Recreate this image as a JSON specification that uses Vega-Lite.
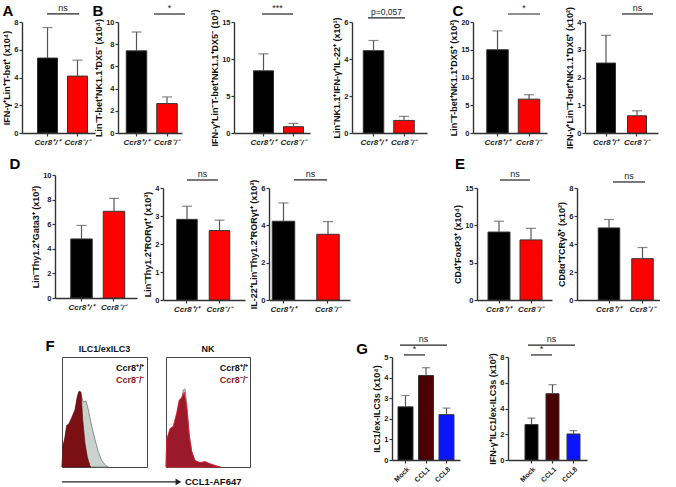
{
"$schema": "https://vega.github.io/schema/vega-lite/v6.json",
"padding": 0,
"background": "white",
"spacing": 0,
"bounds": "flush",
"config": {
  "view": {"stroke": null},
  "font": "Liberation Sans",
  "concat": {"spacing": 0},
  "axis": {"domainColor":"#333333","domainWidth":1.4,"tickColor":"#333333","tickWidth":1.2,"tickSize":3,"labelFont":"Liberation Sans","labelFontWeight":"bold","labelFontSize":7.5,"labelColor":"#222222","labelPadding":1,"labelOverlap":false,"titleFont":"Liberation Sans","titleFontWeight":"bold","titleFontSize":9,"titleColor":"#111111","titlePadding":2,"grid":false,"titleLimit":400},
  "axisX": {"labelFontStyle":"italic","labelFontSize":8,"labelPadding":2},
  "title": {"font":"Liberation Sans","fontSize":9,"fontWeight":"bold","color":"#111111","offset":3}
},
"vconcat": [
{"hconcat":[
  {"width":16,"height":22,"data":{"values":[{"t":"A"}]},"mark":{"type":"text","fontSize":15,"fontWeight":"bold","font":"Liberation Sans","color":"#000000"},"encoding":{"text":{"field":"t"}}},
  {"width":74,"height":22,"data":{"values":[]},"mark":"point"},
  {"width":16,"height":22,"data":{"values":[{"t":"B"}]},"mark":{"type":"text","fontSize":15,"fontWeight":"bold","font":"Liberation Sans","color":"#000000"},"encoding":{"text":{"field":"t"}}},
  {"width":344,"height":22,"data":{"values":[]},"mark":"point"},
  {"width":16,"height":22,"data":{"values":[{"t":"C"}]},"mark":{"type":"text","fontSize":15,"fontWeight":"bold","font":"Liberation Sans","color":"#000000"},"encoding":{"text":{"field":"t"}}}
 ],"spacing":0,"bounds":"flush"},
{"width":1,"height":22,"data":{"values":[]},"mark":"point"},
{"hconcat":[
{"width":22,"height":1,"data":{"values":[]},"mark":"point"},
{"width":73,"height":111,
 "data":{"values":[{"g":"Ccr8⁺/⁺","v":5.4,"e":7.6},{"g":"Ccr8⁻/⁻","v":4.1,"e":5.25}]},
 "encoding":{"x":{"field":"g","type":"nominal","title":null,"scale":{"domain":["Ccr8⁺/⁺","Ccr8⁻/⁻"],"paddingInner":0.3333,"paddingOuter":0.3833,"align":0.674},"axis":{"labelAngle":0}}},
 "layer":[
  {"mark":{"type":"bar","stroke":"#333333","strokeWidth":1},"encoding":{"y":{"field":"v","type":"quantitative","scale":{"domain":[0,8],"nice":false},"axis":{"values":[0,2,4,6,8],"labelOverlap":false,"title":"IFN-γ⁺Lin⁺T-bet⁺ (x10⁴)"}},"color":{"field":"g","type":"nominal","scale":{"domain":["Ccr8⁺/⁺","Ccr8⁻/⁻","Mock","CCL1","CCL8"],"range":["#000000","#ff0000","#000000","#4d0000","#0a14ff"]},"legend":null}}},
  {"mark":{"type":"rule","color":"#555555","strokeWidth":1.2},"encoding":{"y":{"field":"v","type":"quantitative","axis":{"values":[0,2,4,6,8],"labelOverlap":false,"title":"IFN-γ⁺Lin⁺T-bet⁺ (x10⁴)"}},"y2":{"field":"e"}}},
  {"mark":{"type":"tick","orient":"horizontal","color":"#555555","thickness":1.2,"size":10},"encoding":{"y":{"field":"e","type":"quantitative","axis":{"values":[0,2,4,6,8],"labelOverlap":false,"title":"IFN-γ⁺Lin⁺T-bet⁺ (x10⁴)"}}}},
  {"data":{"values":[{"a":"Ccr8⁺/⁺","b":"Ccr8⁻/⁻","s":"ns"}]},"mark":{"type":"rule","color":"#222222","strokeWidth":1.2},"encoding":{"x":{"field":"a","type":"nominal","title":null,"bandPosition":0.475},"x2":{"field":"b","bandPosition":0.575},"y":{"datum":8.58,"type":"quantitative","axis":{"values":[0,2,4,6,8],"labelOverlap":false,"title":"IFN-γ⁺Lin⁺T-bet⁺ (x10⁴)"}}}},
  {"data":{"values":[{"a":"Ccr8⁺/⁺","s":"ns"}]},"mark":{"type":"text","baseline":"bottom","dy":-1,"fontSize":9,"color":"#222222"},"encoding":{"x":{"field":"a","type":"nominal","title":null,"bandPosition":1.275},"y":{"datum":8.58,"type":"quantitative","axis":{"values":[0,2,4,6,8],"labelOverlap":false,"title":"IFN-γ⁺Lin⁺T-bet⁺ (x10⁴)"}},"text":{"field":"s"}}}
 ]},
{"width":23,"height":1,"data":{"values":[]},"mark":"point"},
{"width":64,"height":111,
 "data":{"values":[{"g":"Ccr8⁺/⁺","v":7.4,"e":9.1},{"g":"Ccr8⁻/⁻","v":2.65,"e":3.25}]},
 "encoding":{"x":{"field":"g","type":"nominal","title":null,"scale":{"domain":["Ccr8⁺/⁺","Ccr8⁻/⁻"],"paddingInner":0.3279,"paddingOuter":0.2131,"align":0.635},"axis":{"labelAngle":0}}},
 "layer":[
  {"mark":{"type":"bar","stroke":"#333333","strokeWidth":1},"encoding":{"y":{"field":"v","type":"quantitative","scale":{"domain":[0,10],"nice":false},"axis":{"values":[0,2,4,6,8,10],"labelOverlap":false,"title":"Lin⁻T-bet⁺NK1.1⁺DX5⁻ (x10⁴)"}},"color":{"field":"g","type":"nominal","scale":{"domain":["Ccr8⁺/⁺","Ccr8⁻/⁻","Mock","CCL1","CCL8"],"range":["#000000","#ff0000","#000000","#4d0000","#0a14ff"]},"legend":null}}},
  {"mark":{"type":"rule","color":"#555555","strokeWidth":1.2},"encoding":{"y":{"field":"v","type":"quantitative","axis":{"values":[0,2,4,6,8,10],"labelOverlap":false,"title":"Lin⁻T-bet⁺NK1.1⁺DX5⁻ (x10⁴)"}},"y2":{"field":"e"}}},
  {"mark":{"type":"tick","orient":"horizontal","color":"#555555","thickness":1.2,"size":10},"encoding":{"y":{"field":"e","type":"quantitative","axis":{"values":[0,2,4,6,8,10],"labelOverlap":false,"title":"Lin⁻T-bet⁺NK1.1⁺DX5⁻ (x10⁴)"}}}},
  {"data":{"values":[{"a":"Ccr8⁺/⁺","b":"Ccr8⁻/⁻","s":"*"}]},"mark":{"type":"rule","color":"#222222","strokeWidth":1.2},"encoding":{"x":{"field":"a","type":"nominal","title":null,"bandPosition":1.354},"x2":{"field":"b","bandPosition":1.378},"y":{"datum":10.72,"type":"quantitative","axis":{"values":[0,2,4,6,8,10],"labelOverlap":false,"title":"Lin⁻T-bet⁺NK1.1⁺DX5⁻ (x10⁴)"}}}},
  {"data":{"values":[{"a":"Ccr8⁺/⁺","s":"*"}]},"mark":{"type":"text","baseline":"bottom","dy":-1,"fontSize":9,"color":"#222222"},"encoding":{"x":{"field":"a","type":"nominal","title":null,"bandPosition":2.11},"y":{"datum":10.72,"type":"quantitative","axis":{"values":[0,2,4,6,8,10],"labelOverlap":false,"title":"Lin⁻T-bet⁺NK1.1⁺DX5⁻ (x10⁴)"}},"text":{"field":"s"}}}
 ]},
{"width":52,"height":1,"data":{"values":[]},"mark":"point"},
{"width":76,"height":111,
 "data":{"values":[{"g":"Ccr8⁺/⁺","v":8.4,"e":10.7},{"g":"Ccr8⁻/⁻","v":0.85,"e":1.3}]},
 "encoding":{"x":{"field":"g","type":"nominal","title":null,"scale":{"domain":["Ccr8⁺/⁺","Ccr8⁻/⁻"],"paddingInner":0.3333,"paddingOuter":0.4333,"align":0.75},"axis":{"labelAngle":0}}},
 "layer":[
  {"mark":{"type":"bar","stroke":"#333333","strokeWidth":1},"encoding":{"y":{"field":"v","type":"quantitative","scale":{"domain":[0,15],"nice":false},"axis":{"values":[0,5,10,15],"labelOverlap":false,"title":"IFN-γ⁺Lin⁻T-bet⁺NK1.1⁺DX5⁻ (10³)"}},"color":{"field":"g","type":"nominal","scale":{"domain":["Ccr8⁺/⁺","Ccr8⁻/⁻","Mock","CCL1","CCL8"],"range":["#000000","#ff0000","#000000","#4d0000","#0a14ff"]},"legend":null}}},
  {"mark":{"type":"rule","color":"#555555","strokeWidth":1.2},"encoding":{"y":{"field":"v","type":"quantitative","axis":{"values":[0,5,10,15],"labelOverlap":false,"title":"IFN-γ⁺Lin⁻T-bet⁺NK1.1⁺DX5⁻ (10³)"}},"y2":{"field":"e"}}},
  {"mark":{"type":"tick","orient":"horizontal","color":"#555555","thickness":1.2,"size":10},"encoding":{"y":{"field":"e","type":"quantitative","axis":{"values":[0,5,10,15],"labelOverlap":false,"title":"IFN-γ⁺Lin⁻T-bet⁺NK1.1⁺DX5⁻ (10³)"}}}},
  {"data":{"values":[{"a":"Ccr8⁺/⁺","b":"Ccr8⁻/⁻","s":"***"}]},"mark":{"type":"rule","color":"#222222","strokeWidth":1.2},"encoding":{"x":{"field":"a","type":"nominal","title":null,"bandPosition":0.425},"x2":{"field":"b","bandPosition":0.475},"y":{"datum":16.08,"type":"quantitative","axis":{"values":[0,5,10,15],"labelOverlap":false,"title":"IFN-γ⁺Lin⁻T-bet⁺NK1.1⁺DX5⁻ (10³)"}}}},
  {"data":{"values":[{"a":"Ccr8⁺/⁺","s":"***"}]},"mark":{"type":"text","baseline":"bottom","dy":-1,"fontSize":9,"color":"#222222"},"encoding":{"x":{"field":"a","type":"nominal","title":null,"bandPosition":1.2},"y":{"datum":16.08,"type":"quantitative","axis":{"values":[0,5,10,15],"labelOverlap":false,"title":"IFN-γ⁺Lin⁻T-bet⁺NK1.1⁺DX5⁻ (10³)"}},"text":{"field":"s"}}}
 ]},
{"width":42,"height":1,"data":{"values":[]},"mark":"point"},
{"width":75,"height":111,
 "data":{"values":[{"g":"Ccr8⁺/⁺","v":4.45,"e":5.0},{"g":"Ccr8⁻/⁻","v":0.68,"e":0.9}]},
 "encoding":{"x":{"field":"g","type":"nominal","title":null,"scale":{"domain":["Ccr8⁺/⁺","Ccr8⁻/⁻"],"paddingInner":0.3279,"paddingOuter":0.3934,"align":0.469},"axis":{"labelAngle":0}}},
 "layer":[
  {"mark":{"type":"bar","stroke":"#333333","strokeWidth":1},"encoding":{"y":{"field":"v","type":"quantitative","scale":{"domain":[0,6],"nice":false},"axis":{"values":[0,2,4,6],"labelOverlap":false,"title":"Lin⁻NK1.1⁺IFN-γ⁺IL-22⁺ (x10¹)"}},"color":{"field":"g","type":"nominal","scale":{"domain":["Ccr8⁺/⁺","Ccr8⁻/⁻","Mock","CCL1","CCL8"],"range":["#000000","#ff0000","#000000","#4d0000","#0a14ff"]},"legend":null}}},
  {"mark":{"type":"rule","color":"#555555","strokeWidth":1.2},"encoding":{"y":{"field":"v","type":"quantitative","axis":{"values":[0,2,4,6],"labelOverlap":false,"title":"Lin⁻NK1.1⁺IFN-γ⁺IL-22⁺ (x10¹)"}},"y2":{"field":"e"}}},
  {"mark":{"type":"tick","orient":"horizontal","color":"#555555","thickness":1.2,"size":10},"encoding":{"y":{"field":"e","type":"quantitative","axis":{"values":[0,2,4,6],"labelOverlap":false,"title":"Lin⁻NK1.1⁺IFN-γ⁺IL-22⁺ (x10¹)"}}}},
  {"data":{"values":[{"a":"Ccr8⁺/⁺","b":"Ccr8⁻/⁻","s":"p=0,057"}]},"mark":{"type":"rule","color":"#222222","strokeWidth":1.2},"encoding":{"x":{"field":"a","type":"nominal","title":null,"bandPosition":0.232},"x2":{"field":"b","bandPosition":0.549},"y":{"datum":6.22,"type":"quantitative","axis":{"values":[0,2,4,6],"labelOverlap":false,"title":"Lin⁻NK1.1⁺IFN-γ⁺IL-22⁺ (x10¹)"}}}},
  {"data":{"values":[{"a":"Ccr8⁺/⁺","s":"p=0,057"}]},"mark":{"type":"text","baseline":"bottom","dy":-1,"fontSize":8.5,"color":"#222222"},"encoding":{"x":{"field":"a","type":"nominal","title":null,"bandPosition":1.134},"y":{"datum":6.22,"type":"quantitative","axis":{"values":[0,2,4,6],"labelOverlap":false,"title":"Lin⁻NK1.1⁺IFN-γ⁺IL-22⁺ (x10¹)"}},"text":{"field":"s"}}}
 ]},
{"width":46,"height":1,"data":{"values":[]},"mark":"point"},
{"width":74,"height":111,
 "data":{"values":[{"g":"Ccr8⁺/⁺","v":15.0,"e":18.4},{"g":"Ccr8⁻/⁻","v":6.1,"e":6.9}]},
 "encoding":{"x":{"field":"g","type":"nominal","title":null,"scale":{"domain":["Ccr8⁺/⁺","Ccr8⁻/⁻"],"paddingInner":0.3175,"paddingOuter":0.3333,"align":0.655},"axis":{"labelAngle":0}}},
 "layer":[
  {"mark":{"type":"bar","stroke":"#333333","strokeWidth":1},"encoding":{"y":{"field":"v","type":"quantitative","scale":{"domain":[0,20],"nice":false},"axis":{"values":[0,5,10,15,20],"labelOverlap":false,"title":"Lin⁻T-bet⁺NK1.1⁺DX5⁺ (x10²)"}},"color":{"field":"g","type":"nominal","scale":{"domain":["Ccr8⁺/⁺","Ccr8⁻/⁻","Mock","CCL1","CCL8"],"range":["#000000","#ff0000","#000000","#4d0000","#0a14ff"]},"legend":null}}},
  {"mark":{"type":"rule","color":"#555555","strokeWidth":1.2},"encoding":{"y":{"field":"v","type":"quantitative","axis":{"values":[0,5,10,15,20],"labelOverlap":false,"title":"Lin⁻T-bet⁺NK1.1⁺DX5⁺ (x10²)"}},"y2":{"field":"e"}}},
  {"mark":{"type":"tick","orient":"horizontal","color":"#555555","thickness":1.2,"size":10},"encoding":{"y":{"field":"e","type":"quantitative","axis":{"values":[0,5,10,15,20],"labelOverlap":false,"title":"Lin⁻T-bet⁺NK1.1⁺DX5⁺ (x10²)"}}}},
  {"data":{"values":[{"a":"Ccr8⁺/⁺","b":"Ccr8⁻/⁻","s":"*"}]},"mark":{"type":"rule","color":"#222222","strokeWidth":1.2},"encoding":{"x":{"field":"a","type":"nominal","title":null,"bandPosition":0.988},"x2":{"field":"b","bandPosition":1.01},"y":{"datum":21.44,"type":"quantitative","axis":{"values":[0,5,10,15,20],"labelOverlap":false,"title":"Lin⁻T-bet⁺NK1.1⁺DX5⁺ (x10²)"}}}},
  {"data":{"values":[{"a":"Ccr8⁺/⁺","s":"*"}]},"mark":{"type":"text","baseline":"bottom","dy":-1,"fontSize":9,"color":"#222222"},"encoding":{"x":{"field":"a","type":"nominal","title":null,"bandPosition":1.733},"y":{"datum":21.44,"type":"quantitative","axis":{"values":[0,5,10,15,20],"labelOverlap":false,"title":"Lin⁻T-bet⁺NK1.1⁺DX5⁺ (x10²)"}},"text":{"field":"s"}}}
 ]},
{"width":38,"height":1,"data":{"values":[]},"mark":"point"},
{"width":73,"height":111,
 "data":{"values":[{"g":"Ccr8⁺/⁺","v":2.52,"e":3.52},{"g":"Ccr8⁻/⁻","v":0.62,"e":0.8}]},
 "encoding":{"x":{"field":"g","type":"nominal","title":null,"scale":{"domain":["Ccr8⁺/⁺","Ccr8⁻/⁻"],"paddingInner":0.3871,"paddingOuter":0.371,"align":0.5},"axis":{"labelAngle":0}}},
 "layer":[
  {"mark":{"type":"bar","stroke":"#333333","strokeWidth":1},"encoding":{"y":{"field":"v","type":"quantitative","scale":{"domain":[0,4],"nice":false},"axis":{"values":[0,1,2,3,4],"labelOverlap":false,"title":"IFN-γ⁺Lin⁻T-bet⁺NK1.1⁺DX5⁺ (x10²)"}},"color":{"field":"g","type":"nominal","scale":{"domain":["Ccr8⁺/⁺","Ccr8⁻/⁻","Mock","CCL1","CCL8"],"range":["#000000","#ff0000","#000000","#4d0000","#0a14ff"]},"legend":null}}},
  {"mark":{"type":"rule","color":"#555555","strokeWidth":1.2},"encoding":{"y":{"field":"v","type":"quantitative","axis":{"values":[0,1,2,3,4],"labelOverlap":false,"title":"IFN-γ⁺Lin⁻T-bet⁺NK1.1⁺DX5⁺ (x10²)"}},"y2":{"field":"e"}}},
  {"mark":{"type":"tick","orient":"horizontal","color":"#555555","thickness":1.2,"size":10},"encoding":{"y":{"field":"e","type":"quantitative","axis":{"values":[0,1,2,3,4],"labelOverlap":false,"title":"IFN-γ⁺Lin⁻T-bet⁺NK1.1⁺DX5⁺ (x10²)"}}}},
  {"data":{"values":[{"a":"Ccr8⁺/⁺","b":"Ccr8⁻/⁻","s":"ns"}]},"mark":{"type":"rule","color":"#222222","strokeWidth":1.2},"encoding":{"x":{"field":"a","type":"nominal","title":null,"bandPosition":1.342},"x2":{"field":"b","bandPosition":1.342},"y":{"datum":4.29,"type":"quantitative","axis":{"values":[0,1,2,3,4],"labelOverlap":false,"title":"IFN-γ⁺Lin⁻T-bet⁺NK1.1⁺DX5⁺ (x10²)"}}}},
  {"data":{"values":[{"a":"Ccr8⁺/⁺","s":"ns"}]},"mark":{"type":"text","baseline":"bottom","dy":-1,"fontSize":9,"color":"#222222"},"encoding":{"x":{"field":"a","type":"nominal","title":null,"bandPosition":2.158},"y":{"datum":4.29,"type":"quantitative","axis":{"values":[0,1,2,3,4],"labelOverlap":false,"title":"IFN-γ⁺Lin⁻T-bet⁺NK1.1⁺DX5⁺ (x10²)"}},"text":{"field":"s"}}}
 ]}
],"spacing":0,"bounds":"flush"},
{"width":1,"height":131,"data":{"values":[]},"mark":"point"},
{"hconcat":[
  {"width":30,"height":22,"data":{"values":[{"t":"D"}]},"mark":{"type":"text","fontSize":15,"fontWeight":"bold","font":"Liberation Sans","color":"#000000"},"encoding":{"text":{"field":"t"}}},
  {"width":420,"height":22,"data":{"values":[]},"mark":"point"},
  {"width":20,"height":22,"data":{"values":[{"t":"E"}]},"mark":{"type":"text","fontSize":15,"fontWeight":"bold","font":"Liberation Sans","color":"#000000"},"encoding":{"text":{"field":"t"}}}
 ],"spacing":0,"bounds":"flush"},
{"width":1,"height":22,"data":{"values":[]},"mark":"point"},
{"hconcat":[
{"width":55,"height":1,"data":{"values":[]},"mark":"point"},
{"width":82,"height":123,
 "data":{"values":[{"g":"Ccr8⁺/⁺","v":4.8,"e":5.9},{"g":"Ccr8⁻/⁻","v":7.05,"e":8.1}]},
 "encoding":{"x":{"field":"g","type":"nominal","title":null,"scale":{"domain":["Ccr8⁺/⁺","Ccr8⁻/⁻"],"paddingInner":0.3385,"paddingOuter":0.4308,"align":0.5625},"axis":{"labelAngle":0}}},
 "layer":[
  {"mark":{"type":"bar","stroke":"#333333","strokeWidth":1},"encoding":{"y":{"field":"v","type":"quantitative","scale":{"domain":[0,10],"nice":false},"axis":{"values":[0,2,4,6,8,10],"labelOverlap":false,"title":"Lin⁻Thy1.2⁺Gata3⁺ (x10³)"}},"color":{"field":"g","type":"nominal","scale":{"domain":["Ccr8⁺/⁺","Ccr8⁻/⁻","Mock","CCL1","CCL8"],"range":["#000000","#ff0000","#000000","#4d0000","#0a14ff"]},"legend":null}}},
  {"mark":{"type":"rule","color":"#555555","strokeWidth":1.2},"encoding":{"y":{"field":"v","type":"quantitative","axis":{"values":[0,2,4,6,8,10],"labelOverlap":false,"title":"Lin⁻Thy1.2⁺Gata3⁺ (x10³)"}},"y2":{"field":"e"}}},
  {"mark":{"type":"tick","orient":"horizontal","color":"#555555","thickness":1.2,"size":10},"encoding":{"y":{"field":"e","type":"quantitative","axis":{"values":[0,2,4,6,8,10],"labelOverlap":false,"title":"Lin⁻Thy1.2⁺Gata3⁺ (x10³)"}}}}
 ]}
],"spacing":0,"bounds":"flush"},
{"width":1,"height":13,"data":{"values":[]},"mark":"point"},
{"hconcat":[
{"width":163,"height":1,"data":{"values":[]},"mark":"point"},
{"width":82,"height":112,
 "data":{"values":[{"g":"Ccr8⁺/⁺","v":2.88,"e":3.35},{"g":"Ccr8⁻/⁻","v":2.48,"e":2.85}]},
 "encoding":{"x":{"field":"g","type":"nominal","title":null,"scale":{"domain":["Ccr8⁺/⁺","Ccr8⁻/⁻"],"paddingInner":0.3692,"paddingOuter":0.4462,"align":0.474},"axis":{"labelAngle":0}}},
 "layer":[
  {"mark":{"type":"bar","stroke":"#333333","strokeWidth":1},"encoding":{"y":{"field":"v","type":"quantitative","scale":{"domain":[0,4],"nice":false},"axis":{"values":[0,1,2,3,4],"labelOverlap":false,"title":"Lin⁻Thy1.2⁺RORγt⁺ (x10³)"}},"color":{"field":"g","type":"nominal","scale":{"domain":["Ccr8⁺/⁺","Ccr8⁻/⁻","Mock","CCL1","CCL8"],"range":["#000000","#ff0000","#000000","#4d0000","#0a14ff"]},"legend":null}}},
  {"mark":{"type":"rule","color":"#555555","strokeWidth":1.2},"encoding":{"y":{"field":"v","type":"quantitative","axis":{"values":[0,1,2,3,4],"labelOverlap":false,"title":"Lin⁻Thy1.2⁺RORγt⁺ (x10³)"}},"y2":{"field":"e"}}},
  {"mark":{"type":"tick","orient":"horizontal","color":"#555555","thickness":1.2,"size":10},"encoding":{"y":{"field":"e","type":"quantitative","axis":{"values":[0,1,2,3,4],"labelOverlap":false,"title":"Lin⁻Thy1.2⁺RORγt⁺ (x10³)"}}}},
  {"data":{"values":[{"a":"Ccr8⁺/⁺","b":"Ccr8⁻/⁻","s":"ns"}]},"mark":{"type":"rule","color":"#222222","strokeWidth":1.2},"encoding":{"x":{"field":"a","type":"nominal","title":null,"bandPosition":0.5},"x2":{"field":"b","bandPosition":0.427},"y":{"datum":4.286,"type":"quantitative","axis":{"values":[0,1,2,3,4],"labelOverlap":false,"title":"Lin⁻Thy1.2⁺RORγt⁺ (x10³)"}}}},
  {"data":{"values":[{"a":"Ccr8⁺/⁺","s":"ns"}]},"mark":{"type":"text","baseline":"bottom","dy":-1,"fontSize":9,"color":"#222222"},"encoding":{"x":{"field":"a","type":"nominal","title":null,"bandPosition":1.256},"y":{"datum":4.286,"type":"quantitative","axis":{"values":[0,1,2,3,4],"labelOverlap":false,"title":"Lin⁻Thy1.2⁺RORγt⁺ (x10³)"}},"text":{"field":"s"}}}
 ]},
{"width":24,"height":1,"data":{"values":[]},"mark":"point"},
{"width":81,"height":112,
 "data":{"values":[{"g":"Ccr8⁺/⁺","v":4.22,"e":5.2},{"g":"Ccr8⁻/⁻","v":3.52,"e":4.2}]},
 "encoding":{"x":{"field":"g","type":"nominal","title":null,"scale":{"domain":["Ccr8⁺/⁺","Ccr8⁻/⁻"],"paddingInner":0.4944,"paddingOuter":0.1573,"align":0.232},"axis":{"labelAngle":0}}},
 "layer":[
  {"mark":{"type":"bar","stroke":"#333333","strokeWidth":1},"encoding":{"y":{"field":"v","type":"quantitative","scale":{"domain":[0,6],"nice":false},"axis":{"values":[0,2,4,6],"labelOverlap":false,"title":"IL-22⁺Lin⁻Thy1.2⁺RORγt⁺ (x10³)"}},"color":{"field":"g","type":"nominal","scale":{"domain":["Ccr8⁺/⁺","Ccr8⁻/⁻","Mock","CCL1","CCL8"],"range":["#000000","#ff0000","#000000","#4d0000","#0a14ff"]},"legend":null}}},
  {"mark":{"type":"rule","color":"#555555","strokeWidth":1.2},"encoding":{"y":{"field":"v","type":"quantitative","axis":{"values":[0,2,4,6],"labelOverlap":false,"title":"IL-22⁺Lin⁻Thy1.2⁺RORγt⁺ (x10³)"}},"y2":{"field":"e"}}},
  {"mark":{"type":"tick","orient":"horizontal","color":"#555555","thickness":1.2,"size":10},"encoding":{"y":{"field":"e","type":"quantitative","axis":{"values":[0,2,4,6],"labelOverlap":false,"title":"IL-22⁺Lin⁻Thy1.2⁺RORγt⁺ (x10³)"}}}},
  {"data":{"values":[{"a":"Ccr8⁺/⁺","b":"Ccr8⁻/⁻","s":"ns"}]},"mark":{"type":"rule","color":"#222222","strokeWidth":1.2},"encoding":{"x":{"field":"a","type":"nominal","title":null,"bandPosition":0.967},"x2":{"field":"b","bandPosition":0.456},"y":{"datum":6.43,"type":"quantitative","axis":{"values":[0,2,4,6],"labelOverlap":false,"title":"IL-22⁺Lin⁻Thy1.2⁺RORγt⁺ (x10³)"}}}},
  {"data":{"values":[{"a":"Ccr8⁺/⁺","s":"ns"}]},"mark":{"type":"text","baseline":"bottom","dy":-1,"fontSize":9,"color":"#222222"},"encoding":{"x":{"field":"a","type":"nominal","title":null,"bandPosition":1.7},"y":{"datum":6.43,"type":"quantitative","axis":{"values":[0,2,4,6],"labelOverlap":false,"title":"IL-22⁺Lin⁻Thy1.2⁺RORγt⁺ (x10³)"}},"text":{"field":"s"}}}
 ]},
{"width":127,"height":1,"data":{"values":[]},"mark":"point"},
{"width":75,"height":112,
 "data":{"values":[{"g":"Ccr8⁺/⁺","v":9.1,"e":10.55},{"g":"Ccr8⁻/⁻","v":8.05,"e":9.6}]},
 "encoding":{"x":{"field":"g","type":"nominal","title":null,"scale":{"domain":["Ccr8⁺/⁺","Ccr8⁻/⁻"],"paddingInner":0.3125,"paddingOuter":0.3281,"align":0.524},"axis":{"labelAngle":0}}},
 "layer":[
  {"mark":{"type":"bar","stroke":"#333333","strokeWidth":1},"encoding":{"y":{"field":"v","type":"quantitative","scale":{"domain":[0,15],"nice":false},"axis":{"values":[0,5,10,15],"labelOverlap":false,"title":"CD4⁺FoxP3⁺ (x10⁴)"}},"color":{"field":"g","type":"nominal","scale":{"domain":["Ccr8⁺/⁺","Ccr8⁻/⁻","Mock","CCL1","CCL8"],"range":["#000000","#ff0000","#000000","#4d0000","#0a14ff"]},"legend":null}}},
  {"mark":{"type":"rule","color":"#555555","strokeWidth":1.2},"encoding":{"y":{"field":"v","type":"quantitative","axis":{"values":[0,5,10,15],"labelOverlap":false,"title":"CD4⁺FoxP3⁺ (x10⁴)"}},"y2":{"field":"e"}}},
  {"mark":{"type":"tick","orient":"horizontal","color":"#555555","thickness":1.2,"size":10},"encoding":{"y":{"field":"e","type":"quantitative","axis":{"values":[0,5,10,15],"labelOverlap":false,"title":"CD4⁺FoxP3⁺ (x10⁴)"}}}},
  {"data":{"values":[{"a":"Ccr8⁺/⁺","b":"Ccr8⁻/⁻","s":"ns"}]},"mark":{"type":"rule","color":"#222222","strokeWidth":1.2},"encoding":{"x":{"field":"a","type":"nominal","title":null,"bandPosition":0.545},"x2":{"field":"b","bandPosition":0.4545},"y":{"datum":16.07,"type":"quantitative","axis":{"values":[0,5,10,15],"labelOverlap":false,"title":"CD4⁺FoxP3⁺ (x10⁴)"}}}},
  {"data":{"values":[{"a":"Ccr8⁺/⁺","s":"ns"}]},"mark":{"type":"text","baseline":"bottom","dy":-1,"fontSize":9,"color":"#222222"},"encoding":{"x":{"field":"a","type":"nominal","title":null,"bandPosition":1.227},"y":{"datum":16.07,"type":"quantitative","axis":{"values":[0,5,10,15],"labelOverlap":false,"title":"CD4⁺FoxP3⁺ (x10⁴)"}},"text":{"field":"s"}}}
 ]},
{"width":25,"height":1,"data":{"values":[]},"mark":"point"},
{"width":83,"height":112,
 "data":{"values":[{"g":"Ccr8⁺/⁺","v":5.15,"e":5.75},{"g":"Ccr8⁻/⁻","v":2.95,"e":3.75}]},
 "encoding":{"x":{"field":"g","type":"nominal","title":null,"scale":{"domain":["Ccr8⁺/⁺","Ccr8⁻/⁻"],"paddingInner":0.3582,"paddingOuter":0.4179,"align":0.759},"axis":{"labelAngle":0}}},
 "layer":[
  {"mark":{"type":"bar","stroke":"#333333","strokeWidth":1},"encoding":{"y":{"field":"v","type":"quantitative","scale":{"domain":[0,8],"nice":false},"axis":{"values":[0,2,4,6,8],"labelOverlap":false,"title":"CD8α⁺TCRγδ⁺ (x10²)"}},"color":{"field":"g","type":"nominal","scale":{"domain":["Ccr8⁺/⁺","Ccr8⁻/⁻","Mock","CCL1","CCL8"],"range":["#000000","#ff0000","#000000","#4d0000","#0a14ff"]},"legend":null}}},
  {"mark":{"type":"rule","color":"#555555","strokeWidth":1.2},"encoding":{"y":{"field":"v","type":"quantitative","axis":{"values":[0,2,4,6,8],"labelOverlap":false,"title":"CD8α⁺TCRγδ⁺ (x10²)"}},"y2":{"field":"e"}}},
  {"mark":{"type":"tick","orient":"horizontal","color":"#555555","thickness":1.2,"size":10},"encoding":{"y":{"field":"e","type":"quantitative","axis":{"values":[0,2,4,6,8],"labelOverlap":false,"title":"CD8α⁺TCRγδ⁺ (x10²)"}}}},
  {"data":{"values":[{"a":"Ccr8⁺/⁺","b":"Ccr8⁻/⁻","s":"ns"}]},"mark":{"type":"rule","color":"#222222","strokeWidth":1.2},"encoding":{"x":{"field":"a","type":"nominal","title":null,"bandPosition":0.686},"x2":{"field":"b","bandPosition":0.616},"y":{"datum":8.43,"type":"quantitative","axis":{"values":[0,2,4,6,8],"labelOverlap":false,"title":"CD8α⁺TCRγδ⁺ (x10²)"}}}},
  {"data":{"values":[{"a":"Ccr8⁺/⁺","s":"ns"}]},"mark":{"type":"text","baseline":"bottom","dy":-1,"fontSize":9,"color":"#222222"},"encoding":{"x":{"field":"a","type":"nominal","title":null,"bandPosition":1.43},"y":{"datum":8.43,"type":"quantitative","axis":{"values":[0,2,4,6,8],"labelOverlap":false,"title":"CD8α⁺TCRγδ⁺ (x10²)"}},"text":{"field":"s"}}}
 ]}
],"spacing":0,"bounds":"flush"},
{"width":1,"height":147,"data":{"values":[]},"mark":"point"},
{"hconcat":[
  {"width":100,"height":22,"data":{"values":[{"t":"F"}]},"mark":{"type":"text","fontSize":15,"fontWeight":"bold","font":"Liberation Sans","color":"#000000"},"encoding":{"text":{"field":"t"}}},
  {"width":252,"height":1,"data":{"values":[]},"mark":"point"},
  {"width":20,"height":28,"data":{"values":[{"t":"G"}]},"mark":{"type":"text","fontSize":15,"fontWeight":"bold","font":"Liberation Sans","color":"#000000"},"encoding":{"text":{"field":"t"}}}
 ],"spacing":0,"bounds":"flush"},
{"width":1,"height":22,"data":{"values":[]},"mark":"point"},
{"hconcat":[
{"width":62,"height":1,"data":{"values":[]},"mark":"point"},
{"width":85,"height":110,
 "view":{"stroke":"#444444","strokeWidth":1},
 "title":{"text":"ILC1/exILC3"},
 "layer":[
  {"data":{"values":[{"x":0,"h":0},{"x":1.2,"h":16},{"x":3,"h":23},{"x":5.5,"h":35},{"x":8,"h":36},{"x":11.4,"h":42},{"x":15.3,"h":50},{"x":18,"h":63},{"x":20,"h":68},{"x":22.4,"h":66},{"x":25,"h":59},{"x":28.2,"h":60},{"x":31,"h":52},{"x":35,"h":37},{"x":38.8,"h":25},{"x":42.7,"h":14},{"x":46.7,"h":6},{"x":51.8,"h":1},{"x":54.5,"h":0}]},
   "mark":{"type":"area","fill":"#c9d2cd","stroke":"#6f7a74","strokeWidth":0.8},
   "encoding":{"x":{"field":"x","type":"quantitative","scale":{"domain":[0,100]},"axis":null},"y":{"field":"h","type":"quantitative","scale":{"domain":[0,100]},"axis":null,"stack":null}}},
  {"data":{"values":[{"x":0,"h":0},{"x":1.2,"h":20},{"x":3,"h":25},{"x":5.5,"h":38},{"x":8,"h":39},{"x":11.4,"h":45},{"x":15.3,"h":52},{"x":18,"h":64},{"x":20,"h":69},{"x":22.4,"h":68},{"x":24.4,"h":43},{"x":27,"h":22},{"x":29.8,"h":9},{"x":33,"h":1},{"x":34,"h":0}]},
   "mark":{"type":"area","fill":"#7a0f14","stroke":"#5a0a0e","strokeWidth":0.6},
   "encoding":{"x":{"field":"x","type":"quantitative","axis":null},"y":{"field":"h","type":"quantitative","axis":null,"stack":null}}},
  {"data":{"values":[{"t":"Ccr8⁺/⁺"}]},"mark":{"type":"text","align":"right","fontSize":9,"fontWeight":"bold","color":"#111111"},"encoding":{"x":{"datum":97,"type":"quantitative","axis":null},"y":{"datum":90,"type":"quantitative","axis":null},"text":{"field":"t"}}},
  {"data":{"values":[{"t":"Ccr8⁻/⁻"}]},"mark":{"type":"text","align":"right","fontSize":9,"fontWeight":"bold","color":"#8b1a1a"},"encoding":{"x":{"datum":97,"type":"quantitative","axis":null},"y":{"datum":79,"type":"quantitative","axis":null},"text":{"field":"t"}}},
  {"data":{"values":[{}]},"mark":{"type":"rule","color":"#222222","strokeWidth":1.3},"encoding":{"x":{"datum":0,"type":"quantitative","axis":null},"x2":{"datum":136},"y":{"datum":-13.6,"type":"quantitative","axis":null}}},
  {"data":{"values":[{}]},"mark":{"type":"point","shape":"triangle-right","filled":true,"size":45,"color":"#222222","opacity":1},"encoding":{"x":{"datum":137,"type":"quantitative","axis":null},"y":{"datum":-13.6,"type":"quantitative","axis":null}}},
  {"data":{"values":[{"t":"CCL1-AF647"}]},"mark":{"type":"text","align":"left","fontSize":9.5,"fontWeight":"bold","color":"#111111"},"encoding":{"x":{"datum":144.7,"type":"quantitative","axis":null},"y":{"datum":-13.6,"type":"quantitative","axis":null},"text":{"field":"t"}}}
 ]},
{"width":19,"height":1,"data":{"values":[]},"mark":"point"},
{"width":84,"height":110,
 "view":{"stroke":"#444444","strokeWidth":1},
 "title":{"text":"NK"},
 "layer":[
  {"data":{"values":[{"x":0,"h":0},{"x":0.8,"h":20},{"x":4.8,"h":30},{"x":8.7,"h":33},{"x":12.7,"h":45},{"x":15.8,"h":58},{"x":18.7,"h":62},{"x":20.5,"h":70},{"x":22.6,"h":71},{"x":24.6,"h":58},{"x":27.7,"h":30},{"x":30.6,"h":14},{"x":34.5,"h":5},{"x":40,"h":2},{"x":45,"h":0}]},
   "mark":{"type":"area","fill":"#c9d2cd","stroke":"#6f7a74","strokeWidth":0.8},
   "encoding":{"x":{"field":"x","type":"quantitative","scale":{"domain":[0,100]},"axis":null},"y":{"field":"h","type":"quantitative","scale":{"domain":[0,100]},"axis":null,"stack":null}}},
  {"data":{"values":[{"x":0,"h":0},{"x":0.8,"h":25},{"x":4.8,"h":35},{"x":8.7,"h":37},{"x":12.7,"h":49},{"x":15.8,"h":61},{"x":18.7,"h":63},{"x":21.8,"h":68},{"x":24.6,"h":55},{"x":27.7,"h":28},{"x":30.6,"h":14},{"x":34.5,"h":6},{"x":40.5,"h":4},{"x":46.4,"h":5},{"x":52.4,"h":3},{"x":60.4,"h":1},{"x":65,"h":0}]},
   "mark":{"type":"area","fill":"#9a1a2b","stroke":"#e0162b","strokeWidth":0.8},
   "encoding":{"x":{"field":"x","type":"quantitative","axis":null},"y":{"field":"h","type":"quantitative","axis":null,"stack":null}}},
  {"data":{"values":[{"t":"Ccr8⁺/⁺"}]},"mark":{"type":"text","align":"right","fontSize":9,"fontWeight":"bold","color":"#111111"},"encoding":{"x":{"datum":98,"type":"quantitative","axis":null},"y":{"datum":90,"type":"quantitative","axis":null},"text":{"field":"t"}}},
  {"data":{"values":[{"t":"Ccr8⁻/⁻"}]},"mark":{"type":"text","align":"right","fontSize":9,"fontWeight":"bold","color":"#8b1a1a"},"encoding":{"x":{"datum":98,"type":"quantitative","axis":null},"y":{"datum":79,"type":"quantitative","axis":null},"text":{"field":"t"}}}
 ]},
{"width":142,"height":1,"data":{"values":[]},"mark":"point"},
{"width":68,"height":103,
 "data":{"values":[{"g":"Mock","v":2.58,"e":3.13},{"g":"CCL1","v":4.1,"e":4.48},{"g":"CCL8","v":2.2,"e":2.52}]},
 "encoding":{"x":{"field":"g","type":"nominal","title":null,"scale":{"domain":["Mock","CCL1","CCL8"],"paddingInner":0.2683,"paddingOuter":0.2927,"align":0.5},"axis":{"labelAngle":-45,"labelFontStyle":"normal","labelFontSize":7}}},
 "layer":[
  {"mark":{"type":"bar","stroke":"#333333","strokeWidth":1},"encoding":{"y":{"field":"v","type":"quantitative","scale":{"domain":[0,5],"nice":false},"axis":{"values":[0,1,2,3,4,5],"labelOverlap":false,"title":"ILC1/ex-ILC3s (x10⁴)"}},"color":{"field":"g","type":"nominal","scale":{"domain":["Ccr8⁺/⁺","Ccr8⁻/⁻","Mock","CCL1","CCL8"],"range":["#000000","#ff0000","#000000","#4d0000","#0a14ff"]},"legend":null}}},
  {"mark":{"type":"rule","color":"#555555","strokeWidth":1.2},"encoding":{"y":{"field":"v","type":"quantitative","axis":{"values":[0,1,2,3,4,5],"labelOverlap":false,"title":"ILC1/ex-ILC3s (x10⁴)"}},"y2":{"field":"e"}}},
  {"mark":{"type":"tick","orient":"horizontal","color":"#555555","thickness":1.2,"size":8},"encoding":{"y":{"field":"e","type":"quantitative","axis":{"values":[0,1,2,3,4,5],"labelOverlap":false,"title":"ILC1/ex-ILC3s (x10⁴)"}}}},
  {"data":{"values":[{"a":"Mock","b":"CCL1","s":"*"}]},"mark":{"type":"rule","color":"#222222","strokeWidth":1.2},"encoding":{"x":{"field":"a","type":"nominal","title":null,"bandPosition":0.4},"x2":{"field":"b","bandPosition":0.433},"y":{"datum":5.1,"type":"quantitative","axis":{"values":[0,1,2,3,4,5],"labelOverlap":false,"title":"ILC1/ex-ILC3s (x10⁴)"}}}},
  {"data":{"values":[{"a":"Mock","s":"*"}]},"mark":{"type":"text","baseline":"bottom","dy":-1,"fontSize":9,"color":"#222222"},"encoding":{"x":{"field":"a","type":"nominal","title":null,"bandPosition":1.1},"y":{"datum":5.1,"type":"quantitative","axis":{"values":[0,1,2,3,4,5],"labelOverlap":false,"title":"ILC1/ex-ILC3s (x10⁴)"}},"text":{"field":"s"}}},
  {"data":{"values":[{"a":"Mock","b":"CCL8","s":"ns"}]},"mark":{"type":"rule","color":"#222222","strokeWidth":1.2},"encoding":{"x":{"field":"a","type":"nominal","title":null,"bandPosition":0.133},"x2":{"field":"b","bandPosition":0.533},"y":{"datum":5.58,"type":"quantitative","axis":{"values":[0,1,2,3,4,5],"labelOverlap":false,"title":"ILC1/ex-ILC3s (x10⁴)"}}}},
  {"data":{"values":[{"a":"Mock","s":"ns"}]},"mark":{"type":"text","baseline":"bottom","dy":-1,"fontSize":9,"color":"#222222"},"encoding":{"x":{"field":"a","type":"nominal","title":null,"bandPosition":1.7},"y":{"datum":5.58,"type":"quantitative","axis":{"values":[0,1,2,3,4,5],"labelOverlap":false,"title":"ILC1/ex-ILC3s (x10⁴)"}},"text":{"field":"s"}}}
 ]},
{"width":48,"height":1,"data":{"values":[]},"mark":"point"},
{"width":79,"height":103,
 "data":{"values":[{"g":"Mock","v":2.75,"e":3.25},{"g":"CCL1","v":5.15,"e":5.85},{"g":"CCL8","v":2.02,"e":2.28}]},
 "encoding":{"x":{"field":"g","type":"nominal","title":null,"scale":{"domain":["Mock","CCL1","CCL8"],"paddingInner":0.381,"paddingOuter":0.5714,"align":0.708},"axis":{"labelAngle":-45,"labelFontStyle":"normal","labelFontSize":7}}},
 "layer":[
  {"mark":{"type":"bar","stroke":"#333333","strokeWidth":1},"encoding":{"y":{"field":"v","type":"quantitative","scale":{"domain":[0,8],"nice":false},"axis":{"values":[0,2,4,6,8],"labelOverlap":false,"title":"IFN-γ⁺ILC1/ex-ILC3s (x10³)"}},"color":{"field":"g","type":"nominal","scale":{"domain":["Ccr8⁺/⁺","Ccr8⁻/⁻","Mock","CCL1","CCL8"],"range":["#000000","#ff0000","#000000","#4d0000","#0a14ff"]},"legend":null}}},
  {"mark":{"type":"rule","color":"#555555","strokeWidth":1.2},"encoding":{"y":{"field":"v","type":"quantitative","axis":{"values":[0,2,4,6,8],"labelOverlap":false,"title":"IFN-γ⁺ILC1/ex-ILC3s (x10³)"}},"y2":{"field":"e"}}},
  {"mark":{"type":"tick","orient":"horizontal","color":"#555555","thickness":1.2,"size":8},"encoding":{"y":{"field":"e","type":"quantitative","axis":{"values":[0,2,4,6,8],"labelOverlap":false,"title":"IFN-γ⁺ILC1/ex-ILC3s (x10³)"}}}},
  {"data":{"values":[{"a":"Mock","b":"CCL1","s":"*"}]},"mark":{"type":"rule","color":"#222222","strokeWidth":1.2},"encoding":{"x":{"field":"a","type":"nominal","title":null,"bandPosition":0.46},"x2":{"field":"b","bandPosition":0.46},"y":{"datum":8.16,"type":"quantitative","axis":{"values":[0,2,4,6,8],"labelOverlap":false,"title":"IFN-γ⁺ILC1/ex-ILC3s (x10³)"}}}},
  {"data":{"values":[{"a":"Mock","s":"*"}]},"mark":{"type":"text","baseline":"bottom","dy":-1,"fontSize":9,"color":"#222222"},"encoding":{"x":{"field":"a","type":"nominal","title":null,"bandPosition":1.27},"y":{"datum":8.16,"type":"quantitative","axis":{"values":[0,2,4,6,8],"labelOverlap":false,"title":"IFN-γ⁺ILC1/ex-ILC3s (x10³)"}},"text":{"field":"s"}}},
  {"data":{"values":[{"a":"Mock","b":"CCL8","s":"ns"}]},"mark":{"type":"rule","color":"#222222","strokeWidth":1.2},"encoding":{"x":{"field":"a","type":"nominal","title":null,"bandPosition":0.23},"x2":{"field":"b","bandPosition":0.615},"y":{"datum":8.93,"type":"quantitative","axis":{"values":[0,2,4,6,8],"labelOverlap":false,"title":"IFN-γ⁺ILC1/ex-ILC3s (x10³)"}}}},
  {"data":{"values":[{"a":"Mock","s":"ns"}]},"mark":{"type":"text","baseline":"bottom","dy":-1,"fontSize":9,"color":"#222222"},"encoding":{"x":{"field":"a","type":"nominal","title":null,"bandPosition":2.04},"y":{"datum":8.93,"type":"quantitative","axis":{"values":[0,2,4,6,8],"labelOverlap":false,"title":"IFN-γ⁺ILC1/ex-ILC3s (x10³)"}},"text":{"field":"s"}}}
 ]}
],"spacing":0,"bounds":"flush"}
]
}
